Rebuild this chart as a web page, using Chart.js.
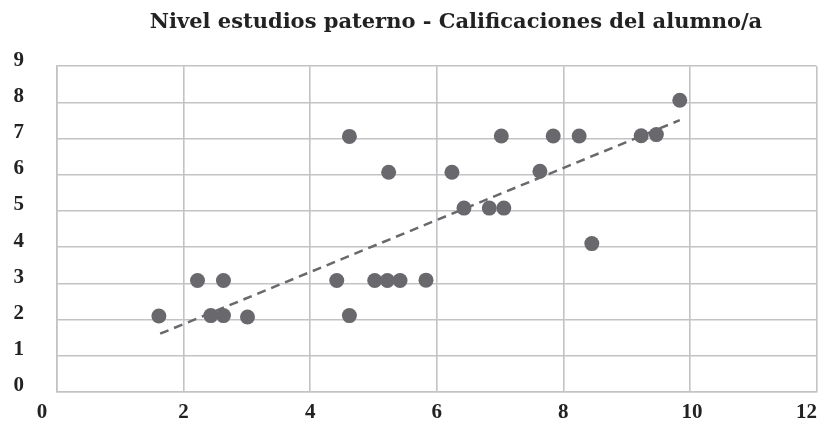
<!DOCTYPE html>
<html>
<head>
<meta charset="utf-8">
<script src="https://cdn.jsdelivr.net/npm/chart.js@4/dist/chart.umd.min.js"></script>
<style>
  html, body { margin: 0; padding: 0; background: #ffffff; }
  #wrap { width: 824px; height: 427px; position: relative; }
</style>
</head>
<body>
<div id="wrap"><canvas id="c" width="824" height="427"></canvas></div>
<script>
const chartTitle = "Nivel estudios paterno - Calificaciones del alumno/a";
const xValues = [1.61, 2.22, 2.63, 2.43, 2.63, 3.01, 4.42, 4.62, 5.02, 5.22, 5.42, 5.83, 4.62, 5.24, 6.24, 6.43, 6.83, 7.06, 7.02, 7.84, 8.25, 7.63, 9.23, 9.47, 9.84, 8.45];
const yValues = [2.10, 3.08, 3.08, 2.11, 2.11, 2.07, 3.08, 2.11, 3.08, 3.08, 3.08, 3.09, 7.06, 6.07, 6.07, 5.08, 5.08, 5.08, 7.07, 7.07, 7.07, 6.10, 7.08, 7.11, 8.06, 4.10];
const trendX = [1.63, 9.84];
const trendY = [1.61, 7.51];
const xTicks = [0, 2, 4, 6, 8, 10, 12];
const yTicks = [0, 1, 2, 3, 4, 5, 6, 7, 8, 9];

const points = xValues.map((x, i) => ({ x: x, y: yValues[i] }));
const trend = trendX.map((x, i) => ({ x: x, y: trendY[i] }));

const TITLE_FONT = "'DejaVu Serif', 'Liberation Serif', serif";
const TICK_FONT = "'Liberation Serif', 'DejaVu Serif', serif";
const GRID = '#c3c3c6';
const INK = '#222222';
const DOT = '#69696d';

// per-label horizontal nudges of the x tick labels (px), as in the reference
const xLabelShift = { 0: -15, 10: 2, 12: -10 };

const layoutTweaks = {
  id: 'layoutTweaks',
  afterLayout(chart) {
    const t = chart.titleBlock;
    if (t) {
      const target = 456;
      const shift = target - (t.left + t.right) / 2;
      t.left += shift; t.right += shift;
    }
  },
  beforeDraw(chart) {
    const xs = chart.scales.x;
    const items = xs.getLabelItems(chart.chartArea);
    items.forEach((it, i) => {
      const v = xs.ticks[i] ? xs.ticks[i].value : null;
      if (v !== null && xLabelShift[v] !== undefined) {
        it.options.translation[0] += xLabelShift[v];
      }
    });
  }
};

new Chart(document.getElementById('c'), {
  type: 'scatter',
  data: {
    datasets: [
      {
        label: 'Calificaciones',
        data: points,
        backgroundColor: DOT,
        borderColor: DOT,
        borderWidth: 0,
        pointRadius: 7.5,
        pointHoverRadius: 7.5,
        order: 1
      },
      {
        type: 'line',
        label: 'Tendencia',
        data: trend,
        borderColor: DOT,
        borderWidth: 2.5,
        borderDash: [9, 6],
        pointRadius: 0,
        fill: false,
        tension: 0,
        order: 2
      }
    ]
  },
  options: {
    responsive: false,
    animation: false,
    layout: { padding: { left: 0, right: 5, top: 0, bottom: 0 } },
    plugins: {
      legend: { display: false },
      tooltip: { enabled: false },
      title: {
        display: true,
        text: chartTitle,
        color: INK,
        font: { family: TITLE_FONT, size: 21, weight: 'bold' },
        padding: { top: 10, bottom: 31 }
      }
    },
    scales: {
      x: {
        type: 'linear',
        min: 0, max: 12,
        afterBuildTicks(s) { s.ticks = xTicks.map(v => ({ value: v })); },
        ticks: {
          color: INK,
          font: { family: TICK_FONT, size: 21, weight: 'bold' },
          padding: 8,
          maxRotation: 0
        },
        grid: { color: GRID, lineWidth: 1.6, drawTicks: false },
        border: { display: true, color: GRID, width: 1.6 },
        afterFit(s) { s.height = 35; s.paddingLeft = 0; s.paddingRight = 0; }
      },
      y: {
        type: 'linear',
        min: 0, max: 9,
        afterBuildTicks(s) { s.ticks = yTicks.map(v => ({ value: v })); },
        ticks: {
          color: INK,
          font: { family: TICK_FONT, size: 21, weight: 'bold' },
          padding: 33,
          labelOffset: -6
        },
        grid: { color: GRID, lineWidth: 1.6, drawTicks: false },
        border: { display: true, color: GRID, width: 1.6 },
        afterFit(s) { s.width = 57; s.paddingTop = 0; s.paddingBottom = 0; }
      }
    }
  },
  plugins: [layoutTweaks]
});
</script>
</body>
</html>
